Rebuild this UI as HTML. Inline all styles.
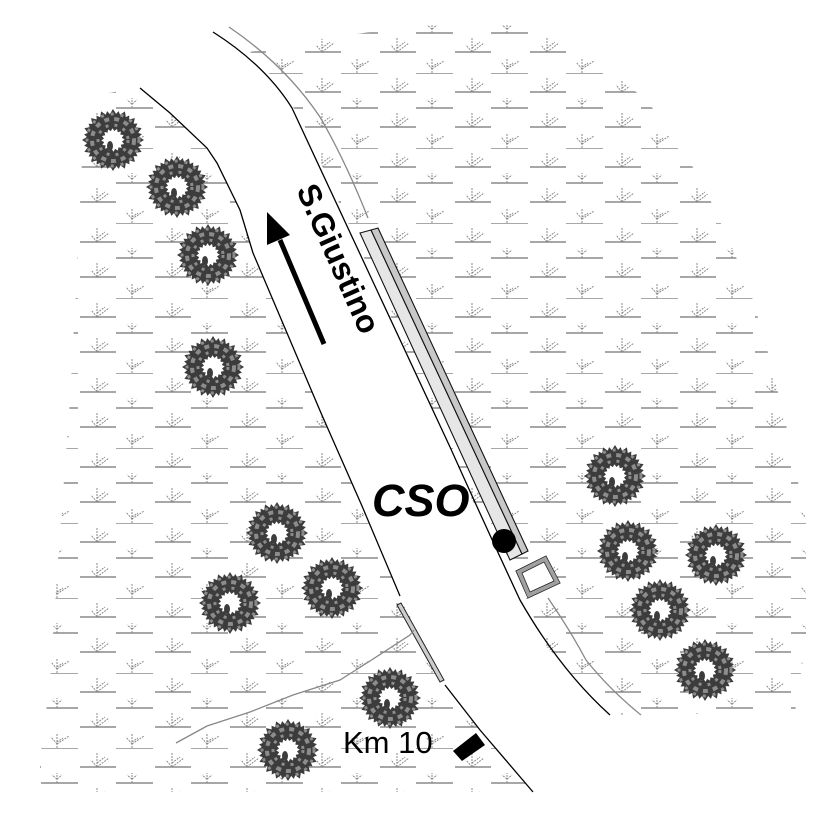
<!DOCTYPE html>
<html><head><meta charset="utf-8"><style>
html,body{margin:0;padding:0;background:#fff;}
svg{display:block;}
</style></head><body>
<svg width="826" height="826" viewBox="0 0 826 826" xmlns="http://www.w3.org/2000/svg">
<defs>
<pattern id="grass" patternUnits="userSpaceOnUse" width="75" height="75" patternTransform="translate(566,223)">
 <g stroke="#8a8a8a" stroke-width="1.6">
  <line x1="0" y1="0" x2="37" y2="0"/>
  <line x1="0" y1="35" x2="37" y2="35"/>
  <line x1="39" y1="19" x2="75" y2="19"/>
  <line x1="39" y1="54" x2="75" y2="54"/>
 </g>
 <g stroke="#8a8a8a" stroke-width="1" stroke-dasharray="2 1" fill="none">
  <path d="M16,0 V-14 M16,-4 L10,-11 M16,-4 L28,-12 M16,-6 L22,-10"/>
  <path d="M16,75 V61 M16,71 L10,64 M16,71 L28,63 M16,69 L22,65"/>
  <path d="M16,35 V25 M16,31 L11,27 M16,31 L21,27"/>
  <path d="M56,19 V4 M56,19 L50,12 M56,19 L68,10 M56,15 L64,9"/>
  <path d="M56,54 V39 M56,54 L50,47 M56,54 L68,45 M56,50 L64,44"/>
 </g>
</pattern>
<polygon id="star" points="31,0 23.5,4.7 28.6,11.9 19.9,13.3 21.9,21.9 13.3,19.9 11.9,28.6 4.7,23.5 0,31 -4.7,23.5 -11.9,28.6 -13.3,19.9 -21.9,21.9 -19.9,13.3 -28.6,11.9 -23.5,4.7 -31,0 -23.5,-4.7 -28.6,-11.9 -19.9,-13.3 -21.9,-21.9 -13.3,-19.9 -11.9,-28.6 -4.7,-23.5 0,-31 4.7,-23.5 11.9,-28.6 13.3,-19.9 21.9,-21.9 19.9,-13.3 28.6,-11.9 23.5,-4.7"/>
<g id="tree">
 <use href="#star" fill="#3c3c3c"/>
 <use href="#star" fill="#3c3c3c" transform="rotate(11) scale(0.95)"/>
 <circle r="21" fill="none" stroke="#8c8c8c" stroke-width="4" stroke-dasharray="5 5"/>
 <circle r="26" fill="none" stroke="#8c8c8c" stroke-width="3" stroke-dasharray="3 7"/>
 <circle r="15" fill="none" stroke="#8c8c8c" stroke-width="3" stroke-dasharray="3 6"/>
 <use href="#star" fill="#fff" transform="rotate(20) scale(0.38)"/>
 <ellipse cx="-3" cy="6" rx="3" ry="5" fill="#3c3c3c"/>
</g>
</defs>

<polygon fill="url(#grass)" points="250,52 300,42 420,25 530,25 566,45 603,65 646,100 678,140 708,195 733,250 750,290 766,345 785,420 806,520 806,640 795,712 641,715 610,715 546,646 510,560 472,500 450,447 315,150 297,112 283,95 262,62"/>
<polygon fill="url(#grass)" points="95,95 140,88 170,113 207,148 217,163 240,210 253,253 321,413 362,506 400,596 441,680 480,730 533,792 40,792 40,760 50,680 58,560 70,400 78,250 82,160"/>

<path d="M213,32 Q265,65 292,108 L450,447 Q485,525 520,600 Q560,670 610,715" fill="none" stroke="#000" stroke-width="1.3"/>
<path d="M140,88 L170,113 L207,148 L217,163 L240,210 L253,253 L321,413 L362,506 L400,596" fill="none" stroke="#000" stroke-width="1.3"/>
<path d="M445,685 L480,730 L533,792" fill="none" stroke="#000" stroke-width="1.3"/>
<polygon points="397,605 401,603 444,680 440,682" fill="#ccc" stroke="#222" stroke-width="1"/>

<path d="M229,27 Q285,65 320,117 Q345,160 368,218" fill="none" stroke="#888" stroke-width="1.3"/>
<path d="M548,598 Q570,630 586,660 Q610,690 641,715" fill="none" stroke="#888" stroke-width="1.3"/>
<path d="M176,743 L207,726 L250,712 L293,695 L340,680 L370,661 L410,635 L414,630" fill="none" stroke="#888" stroke-width="1.3"/>

<polygon points="360,233 371,230 522,554 510,560" fill="#e6e6e6" stroke="#111" stroke-width="1.1"/>
<polygon points="371,230 378,228 528,551 522,554" fill="#c8c8c8" stroke="#111" stroke-width="1.1"/>

<polygon points="516,571 546,556 560,583 528,598" fill="#fff" stroke="#222" stroke-width="1"/>
<polygon points="519,572 545,559 557,582 529,595" fill="none" stroke="#a0a0a0" stroke-width="4"/>
<polygon points="522,573 544,562 554,581 530,592" fill="#fff" stroke="#222" stroke-width="0.8"/>

<circle cx="504" cy="541" r="12" fill="#000"/>

<polygon points="453,751 476,733 485,745 462,761" fill="#000"/>

<line x1="324" y1="344" x2="280" y2="240" stroke="#000" stroke-width="5"/>
<polygon points="267,212 267,245 290,235" fill="#000"/>

<use href="#tree" x="113" y="140"/>
<use href="#tree" x="177" y="187"/>
<use href="#tree" x="208" y="255"/>
<use href="#tree" x="213" y="367"/>
<use href="#tree" x="277" y="533"/>
<use href="#tree" x="230" y="603"/>
<use href="#tree" x="332" y="588"/>
<use href="#tree" x="390" y="698"/>
<use href="#tree" x="288" y="750"/>
<use href="#tree" x="615" y="476"/>
<use href="#tree" x="628" y="551"/>
<use href="#tree" x="716" y="555"/>
<use href="#tree" x="660" y="610"/>
<use href="#tree" x="705" y="670"/>

<text x="0" y="0" transform="translate(296,190) rotate(66)" font-family="Liberation Sans, sans-serif" font-weight="bold" font-size="32" fill="#000">S.Giustino</text>
<text x="372" y="516" font-family="Liberation Sans, sans-serif" font-weight="bold" font-style="italic" font-size="45" fill="#000">CSO</text>
<text x="343" y="753" font-family="Liberation Sans, sans-serif" font-size="31" fill="#000">Km 10</text>
</svg>
</body></html>
